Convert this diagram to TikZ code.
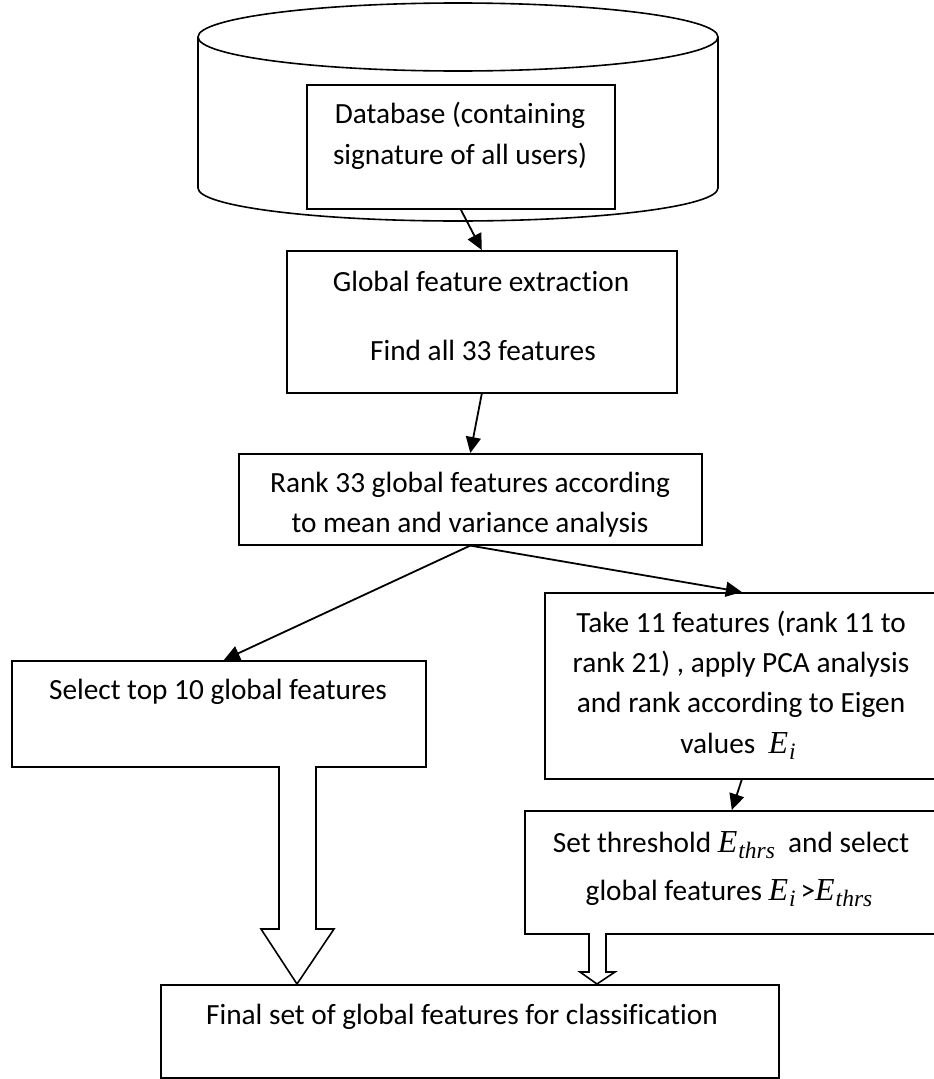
\documentclass[tikz,border=0pt]{standalone}
\usepackage{fontspec}
\setmainfont{Carlito}[Ligatures=NoCommon]
\newfontfamily\serifrm{Liberation Serif}
% italic symbol with a lowered index, e.g. \Ind{i}
\newcommand\Ind[1]{{\fontsize{32}{32}\selectfont\serifrm\itshape E\kern0.03em\raisebox{-0.2em}{\fontsize{23.5}{23}\selectfont\serifrm\itshape #1}}}
\usetikzlibrary{arrows.meta,calc}
\begin{document}
\begin{tikzpicture}[x=1pt,y=-1pt,
  outline/.style={draw=black,line width=1.6pt},
  box/.style={outline,rectangle,inner sep=0pt,anchor=north west},
  txt/.style={font=\fontsize{29.3}{35}\selectfont,anchor=base,inner sep=0pt},
  flow/.style={line width=1.8pt,-{Triangle[length=16pt,width=15pt]}},
  hollow/.style={outline,fill=white,line join=miter}]
% page
\fill[white] (0,0) rectangle (934,1079);
\useasboundingbox (0,0) rectangle (934,1079);

% database cylinder
\draw[outline] (198,37) -- (198,188)
  arc[start angle=180,end angle=0,x radius=260,y radius=33] -- (718,37);
\draw[outline] (458,37) ellipse[x radius=260,y radius=34];

% process boxes
\node[box,minimum width=308pt,minimum height=124pt] (db)    at (306,84)  {};
\node[box,minimum width=390pt,minimum height=142pt] (glob)  at (286,250) {};
\node[box,minimum width=463pt,minimum height=91pt]  (rank)  at (238,453) {};
\node[box,minimum width=414pt,minimum height=106pt] (sel)   at (11,660)  {};
\node[box,minimum width=394pt,minimum height=186pt] (take)  at (544,592) {};
\node[box,minimum width=414pt,minimum height=123pt] (thr)   at (524,810) {};
\node[box,minimum width=618pt,minimum height=93pt]  (final) at (160,984) {};

% box texts
\node[txt] (db1) at (460,123) {Database (containing};
\node[txt] (db2) at (460,164) {signature of all users)};
\node[txt] (gl1) at (481,291) {Global feature extraction};
\node[txt] (gl2) at (483,360) {Find all 33 features};
\node[txt] (rk1) at (470,492) {Rank 33 global features according};
\node[txt] (rk2) at (470,532) {to mean and variance analysis};
\node[txt] (se1) at (218,699) {Select top 10 global features};
\node[txt] (tk1) at (741,632) {Take 11 features (rank 11 to};
\node[txt] (tk2) at (741,672) {rank 21) , apply PCA analysis};
\node[txt] (tk3) at (741,712) {and rank according to Eigen};
\node[txt] (tk4) at (738,753) {values \ \Ind{i}};
\node[txt] (th1) at (731,852) {Set threshold \Ind{thrs} \ and select};
\node[txt] (th2) at (729,900) {global features \Ind{i}\,>\Ind{thrs}};
\node[txt] (fi1) at (462,1024) {Final set of global features for classification};

% connectors
\draw[flow] (db.south)   -- (glob.north);
\draw[flow] (glob.south) -- (rank.north);
\draw[flow] (rank.south) -- ($(sel.north)+(5,0)$);
\draw[flow] (rank.south) -- (take.north);
\draw[flow] (take.south) -- (thr.north);

% hollow block arrows into the final box
\draw[hollow] (279,766) -- (279,929) -- (261,929) -- (297,984) -- (334,929)
  -- (316,929) -- (316,766);
\draw[hollow] (589,933) -- (589,972) -- (580,972) -- (597,984) -- (615,972)
  -- (606,972) -- (606,933);
\end{tikzpicture}
\end{document}
